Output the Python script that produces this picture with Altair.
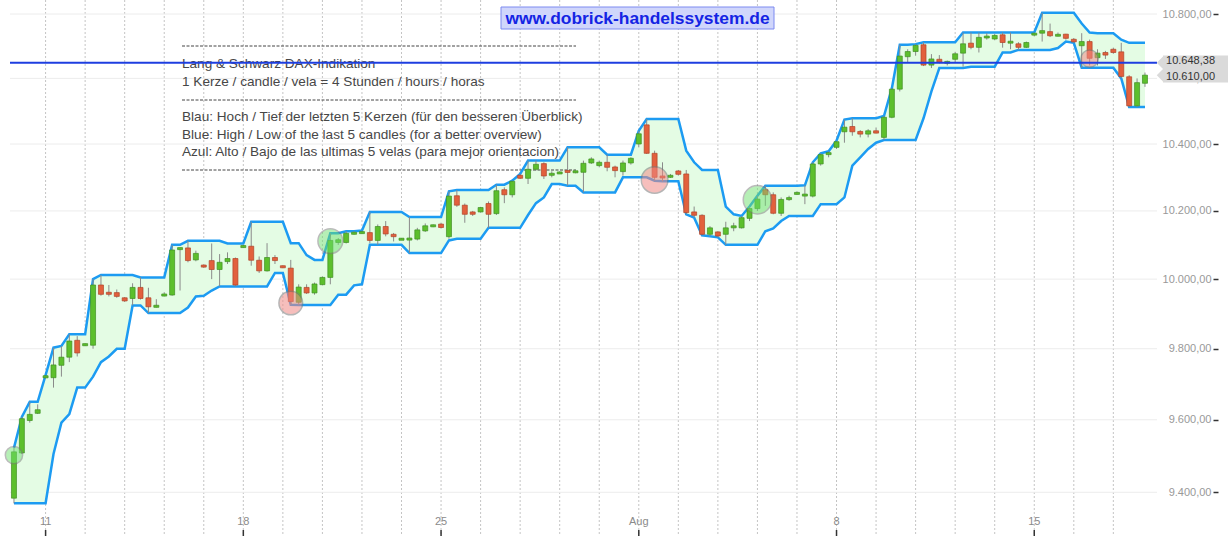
import altair as alt
import pandas as pd

# ---------------- data ----------------
opens = [9384, 9508, 9598, 9618, 9719, 9718, 9753, 9776, 9824, 9810,
         9810, 9983, 9961, 9961, 9946, 9944, 9976, 9946, 9921, 9953,
         9954, 10088, 10091, 10056, 10041, 10054, 10028, 10051, 10060, 10094,
         10096, 10055, 10024, 10063, 10038, 10032, 9933, 9976, 9960, 9984,
         10005, 10107, 10107, 10133, 10135, 10136, 10113, 10154, 10131, 10116,
         10116, 10117, 10141, 10155, 10161, 10124, 10245, 10217, 10197, 10197,
         10222, 10192, 10263, 10248, 10306, 10297, 10324, 10341, 10308, 10312,
         10320, 10316, 10315, 10343, 10335, 10345, 10331, 10317, 10343, 10400,
         10458, 10372, 10303, 10302, 10319, 10310, 10197, 10187, 10131, 10138,
         10131, 10152, 10150, 10178, 10207, 10263, 10248, 10193, 10234, 10251,
         10246, 10244, 10340, 10368, 10390, 10437, 10453, 10438, 10430, 10440,
         10420, 10481, 10567, 10667, 10683, 10704, 10641, 10659, 10649, 10659,
         10678, 10709, 10696, 10727, 10722, 10735, 10711, 10707, 10696, 10735,
         10740, 10745, 10733, 10737, 10721, 10701, 10714, 10664, 10680, 10690,
         10682, 10605, 10516, 10585]
highs = [9522, 9608, 9650, 9643, 9725, 9803, 9808, 9841, 9836, 9815,
         10000, 10012, 9983, 9970, 9948, 9988, 10005, 9975, 9942, 9962,
         10100, 10092, 10112, 10083, 10043, 10104, 10073, 10078, 10063, 10100,
         10168, 10066, 10105, 10070, 10040, 10056, 9985, 9985, 9990, 10008,
         10134, 10120, 10140, 10140, 10142, 10197, 10160, 10170, 10135, 10120,
         10182, 10150, 10163, 10160, 10165, 10258, 10262, 10222, 10200, 10212,
         10228, 10278, 10270, 10290, 10310, 10350, 10350, 10345, 10318, 10318,
         10390, 10320, 10350, 10360, 10350, 10368, 10335, 10350, 10360, 10440,
         10476, 10380, 10345, 10310, 10322, 10322, 10213, 10190, 10155, 10140,
         10168, 10165, 10185, 10213, 10245, 10275, 10255, 10240, 10245, 10258,
         10276, 10345, 10372, 10378, 10410, 10474, 10478, 10442, 10445, 10450,
         10485, 10570, 10704, 10690, 10706, 10712, 10675, 10672, 10655, 10682,
         10742, 10742, 10742, 10740, 10738, 10742, 10742, 10712, 10714, 10742,
         10804, 10770, 10742, 10738, 10725, 10740, 10720, 10690, 10685, 10695,
         10710, 10610, 10600, 10618]
lows = [9370, 9505, 9592, 9616, 9716, 9690, 9721, 9762, 9778, 9808,
        9800, 9952, 9950, 9946, 9934, 9924, 9941, 9902, 9918, 9950,
        9952, 9967, 10049, 10052, 10033, 10000, 9979, 10044, 9979, 10092,
        10039, 10018, 10022, 10044, 10032, 9926, 9925, 9957, 9955, 9982,
        9985, 10100, 10104, 10130, 10133, 10105, 10100, 10125, 10110, 10114,
        10076, 10113, 10138, 10152, 10148, 10118, 10212, 10165, 10185, 10195,
        10150, 10188, 10223, 10240, 10295, 10280, 10320, 10295, 10300, 10310,
        10275, 10312, 10255, 10340, 10330, 10318, 10300, 10305, 10338, 10390,
        10370, 10290, 10288, 10298, 10305, 10190, 10180, 10128, 10125, 10122,
        10100, 10140, 10148, 10170, 10200, 10215, 10190, 10185, 10230, 10248,
        10220, 10240, 10335, 10360, 10385, 10404, 10425, 10420, 10420, 10432,
        10412, 10478, 10560, 10650, 10670, 10638, 10632, 10646, 10640, 10650,
        10636, 10690, 10680, 10720, 10718, 10695, 10690, 10688, 10694, 10730,
        10714, 10728, 10730, 10720, 10710, 10633, 10640, 10640, 10660, 10676,
        10600, 10512, 10512, 10574]
closes = [9511, 9603, 9615, 9628, 9722, 9754, 9776, 9822, 9788, 9813,
          9983, 9956, 9957, 9950, 9937, 9976, 9944, 9920, 9922, 9955,
          10085, 10090, 10054, 10075, 10035, 10028, 10049, 10060, 9983, 10096,
          10055, 10024, 10063, 10054, 10034, 9935, 9977, 9960, 9986, 10005,
          10113, 10115, 10134, 10135, 10137, 10113, 10154, 10132, 10124, 10117,
          10118, 10144, 10156, 10157, 10151, 10244, 10217, 10190, 10190, 10210,
          10190, 10260, 10248, 10288, 10297, 10324, 10339, 10304, 10310, 10314,
          10315, 10317, 10342, 10355, 10345, 10330, 10320, 10343, 10357, 10431,
          10372, 10300, 10299, 10304, 10309, 10195, 10187, 10131, 10150, 10126,
          10150, 10154, 10180, 10207, 10235, 10248, 10193, 10234, 10239, 10253,
          10248, 10340, 10368, 10374, 10407, 10451, 10437, 10430, 10440, 10433,
          10481, 10567, 10669, 10683, 10702, 10641, 10660, 10650, 10650, 10676,
          10707, 10696, 10727, 10729, 10733, 10711, 10713, 10696, 10711, 10739,
          10748, 10732, 10734, 10724, 10713, 10714, 10662, 10678, 10672, 10680,
          10606, 10516, 10587, 10610]

signal_idx = [0, 35, 40, 81, 94, 136]
signal_price = [9502, 9931, 10111, 10292, 10233, 10661]
signal_kind = ["up", "down", "up", "down", "up", "down"]
signal_size = [300, 560, 616, 707, 804, 300]

day_grid_idx = list(range(4, 140, 5))
week_idx = [4, 29, 54, 79, 104, 129]
week_labels = ["11", "18", "25", "Aug", "8", "15"]

y_ticks = [9400, 9600, 9800, 10000, 10200, 10400, 10600, 10800]
ref_price = [10648.38, 10610.00]
ref_text = ["10.648,38", "10.610,00"]

info_lines = [
    "Lang & Schwarz DAX-Indikation",
    "1 Kerze / candle / vela = 4 Stunden / hours / horas",
    "Blau: Hoch / Tief der letzten 5 Kerzen (für den besseren Überblick)",
    "Blue: High / Low of the last 5 candles (for a better overview)",
    "Azul: Alto / Bajo de las ultimas 5 velas (para mejor orientacion)",
]
watermark = "www.dobrick-handelssystem.de"

# ---------------- build ----------------
df = pd.DataFrame({"i": list(range(len(opens))), "o": opens, "h": highs,
                   "l": lows, "c": closes})
sig = pd.DataFrame({"i": signal_idx, "p": signal_price, "k": signal_kind,
                    "s": signal_size})
grid_v = pd.DataFrame({"g": day_grid_idx})
weeks = pd.DataFrame({"g": week_idx, "t": week_labels})
grid_h = pd.DataFrame({"v": y_ticks})
tags = pd.DataFrame({"p": ref_price, "t": ref_text})
one = alt.Data(values=[{"a": 1}])

FONT = "Liberation Sans"
xs = alt.Scale(domain=[-0.5, 151.6], nice=False, zero=False, padding=0)
ys = alt.Scale(type="log", domain=[9281.5, 10844], nice=False, padding=0)
X = alt.X("i:Q", scale=xs, axis=None)

y_axis = alt.Axis(
    orient="right", values=y_ticks, grid=False, domain=False, title=None,
    tickSize=5, tickColor="#333333", tickWidth=1.5,
    labelAlign="right", labelPadding=-7, labelBaseline="middle",
    labelColor="#999999", labelFontSize=11, labelFont=FONT,
    labelExpr="replace(replace(replace(format(datum.value, ',.2f'), ',', '#'), '.', ','), '#', '.')",
)

vgrid = alt.Chart(grid_v).mark_rule(color="#c4c4c4", strokeDash=[2, 2], strokeWidth=1).encode(
    x=alt.X("g:Q", scale=xs, axis=None), y=alt.value(0), y2=alt.value(536))

hgrid = alt.Chart(grid_h).mark_rule(color="#ececec", strokeWidth=1).encode(
    y=alt.Y("v:Q", scale=ys, axis=y_axis), x=alt.value(0), x2=alt.value(1147))

band = alt.Chart(df).transform_window(
    window=[{"op": "max", "field": "h", "as": "upper"},
            {"op": "min", "field": "l", "as": "lower"}],
    frame=[-4, 0], sort=[{"field": "i"}])

area = band.mark_area(color="#e4fce4", opacity=1).encode(
    x=X, y=alt.Y("upper:Q", scale=ys), y2="lower:Q")
up_line = band.mark_line(color="#1c9bf2", strokeWidth=2.5).encode(
    x=X, y=alt.Y("upper:Q", scale=ys))
lo_line = band.mark_line(color="#1c9bf2", strokeWidth=2.5).encode(
    x=X, y=alt.Y("lower:Q", scale=ys))

text_layers = []
line_y = [64, 82, 117, 135, 152]
for t, yy in zip(info_lines, line_y):
    text_layers.append(alt.Chart(one).mark_text(
        align="left", baseline="middle", font=FONT, fontSize=13.6, color="#474747").encode(
        x=alt.value(172), y=alt.value(yy), text=alt.value(t)))
for yy in [46, 100, 170]:
    text_layers.append(alt.Chart(one).mark_rule(
        color="#444444", strokeDash=[3, 1.5], strokeWidth=1).encode(
        x=alt.value(172), x2=alt.value(566), y=alt.value(yy)))

wicks = alt.Chart(df).mark_rule(color="#8a8a8a", strokeWidth=1).encode(
    x=X, y=alt.Y("l:Q", scale=ys), y2="h:Q")

bodies = alt.Chart(df).transform_calculate(
    mid="(datum.o + datum.c) / 2",
    half="max(abs(datum.o - datum.c) / 2, 3)",
).transform_calculate(
    top="datum.mid + datum.half", bot="datum.mid - datum.half")
up_bodies = bodies.transform_filter("datum.c >= datum.o").mark_bar(
    width=5, color="#5cbf2c", stroke="#3f8f22", strokeWidth=0.7).encode(
    x=X, y=alt.Y("top:Q", scale=ys), y2="bot:Q")
dn_bodies = bodies.transform_filter("datum.c < datum.o").mark_bar(
    width=5, color="#e2603d", stroke="#b04428", strokeWidth=0.7).encode(
    x=X, y=alt.Y("top:Q", scale=ys), y2="bot:Q")

sig_up = alt.Chart(sig).transform_filter("datum.k == 'up'").mark_circle(
    color="#6fe06f", opacity=0.5, stroke="#7a7a7a", strokeWidth=1.5).encode(
    x=X, y=alt.Y("p:Q", scale=ys), size=alt.Size("s:Q", scale=None))
sig_dn = alt.Chart(sig).transform_filter("datum.k == 'down'").mark_circle(
    color="#f08a86", opacity=0.55, stroke="#7a7a7a", strokeWidth=1.5).encode(
    x=X, y=alt.Y("p:Q", scale=ys), size=alt.Size("s:Q", scale=None))

ref_line = alt.Chart(tags.iloc[[0]]).mark_rule(color="#1e3ee0", strokeWidth=2).encode(
    y=alt.Y("p:Q", scale=ys), x=alt.value(0), x2=alt.value(1147))

tag_base = alt.Chart(tags).transform_calculate(
    top="datum.p * 1.0021", bot="datum.p / 1.0021")
tag_rect = tag_base.mark_rect(color="#dadada").encode(
    y=alt.Y("top:Q", scale=ys), y2="bot:Q", x=alt.value(1153), x2=alt.value(1218))
tag_tip = alt.Chart(tags).mark_point(
    shape="M -0.5 0 L 0.5 -1 L 0.5 1 Z", size=169, filled=True,
    color="#dadada", opacity=1).encode(
    y=alt.Y("p:Q", scale=ys), x=alt.value(1150))
tag_text_hi = alt.Chart(tags.iloc[[0]]).mark_text(
    align="right", baseline="middle", font=FONT, fontSize=11, color="#333333", dy=-1.5).encode(
    y=alt.Y("p:Q", scale=ys), x=alt.value(1205), text="t:N")
tag_text_lo = alt.Chart(tags.iloc[[1]]).mark_text(
    align="right", baseline="middle", font=FONT, fontSize=11, color="#333333", dy=1.5).encode(
    y=alt.Y("p:Q", scale=ys), x=alt.value(1205), text="t:N")

wm_box = alt.Chart(one).mark_rect(fill="#d0d6fb", stroke="#7d8af0", strokeWidth=1).encode(
    x=alt.value(491), x2=alt.value(764), y=alt.value(7), y2=alt.value(29))
wm_text = alt.Chart(one).mark_text(
    align="center", baseline="middle", font=FONT, fontSize=17.4, fontWeight="bold",
    color="#1424e4").encode(x=alt.value(627.5), y=alt.value(18.5), text=alt.value(watermark))

xlab = alt.Chart(weeks).mark_text(
    align="center", baseline="middle", font=FONT, fontSize=11, color="#8a8a8a").encode(
    x=alt.X("g:Q", scale=xs, axis=None), y=alt.value(522), text="t:N")
xtick = alt.Chart(weeks).mark_rule(color="#333333", strokeWidth=1.5).encode(
    x=alt.X("g:Q", scale=xs, axis=None), y=alt.value(530), y2=alt.value(536))

chart = alt.layer(
    vgrid, hgrid, area, *text_layers, up_line, lo_line, wicks, up_bodies, dn_bodies,
    sig_up, sig_dn, ref_line, tag_rect, tag_tip, tag_text_hi, tag_text_lo,
    wm_box, wm_text, xlab, xtick,
).properties(
    width=1203, height=536,
    autosize=alt.AutoSizeParams(type="none"),
    padding={"left": 10, "top": 0, "right": 15, "bottom": 0},
    background="white",
).configure_view(stroke=None)

chart.save("out.html", embed_options={"renderer": "svg", "actions": False})
